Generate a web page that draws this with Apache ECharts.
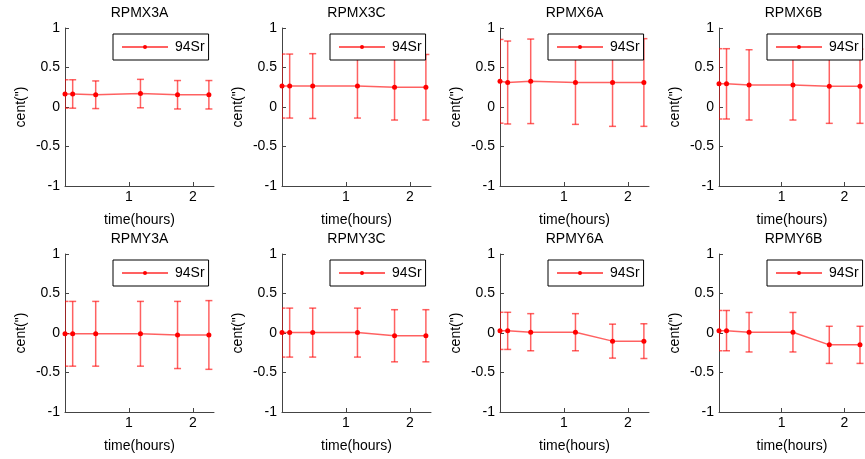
<!DOCTYPE html>
<html><head><meta charset="utf-8">
<script src="https://cdn.jsdelivr.net/npm/echarts@6/dist/echarts.min.js"></script>
<style>html,body{margin:0;padding:0;background:#fff}#c{width:865px;height:459px}</style>
</head><body><div id="c"></div>
<script>
const titles = ['RPMX3A','RPMX3C','RPMX6A','RPMX6B','RPMY3A','RPMY3C','RPMY6A','RPMY6B'];
const times = [0, 0.12, 0.48, 1.18, 1.76, 2.25];
const yRPMX3A = [0.165, 0.165, 0.155, 0.17, 0.155, 0.155];
const eRPMX3A = [0.18, 0.18, 0.175, 0.18, 0.18, 0.18];
const yRPMX3C = [0.265, 0.265, 0.265, 0.265, 0.25, 0.25];
const eRPMX3C = [0.405, 0.405, 0.41, 0.405, 0.415, 0.415];
const yRPMX6A = [0.325, 0.31, 0.325, 0.31, 0.31, 0.31];
const eRPMX6A = [0.53, 0.525, 0.535, 0.53, 0.555, 0.555];
const yRPMX6B = [0.293, 0.293, 0.28, 0.28, 0.263, 0.263];
const eRPMX6B = [0.445, 0.445, 0.445, 0.445, 0.47, 0.47];
const yRPMY3A = [-0.01, -0.01, -0.01, -0.01, -0.025, -0.025];
const eRPMY3A = [0.41, 0.41, 0.41, 0.41, 0.425, 0.435];
const yRPMY3C = [0.005, 0.005, 0.005, 0.005, -0.035, -0.035];
const eRPMY3C = [0.31, 0.31, 0.31, 0.31, 0.33, 0.33];
const yRPMY6A = [0.027, 0.027, 0.01, 0.01, -0.103, -0.103];
const eRPMY6A = [0.235, 0.235, 0.235, 0.235, 0.215, 0.22];
const yRPMY6B = [0.03, 0.03, 0.01, 0.01, -0.15, -0.15];
const eRPMY6B = [0.255, 0.255, 0.25, 0.25, 0.235, 0.235];
const yTicks = [-1, -0.5, 0, 0.5, 1];
const xTicks = [1, 2];
const seriesName = '94Sr';

const ys = [yRPMX3A,yRPMX3C,yRPMX6A,yRPMX6B,yRPMY3A,yRPMY3C,yRPMY6A,yRPMY6B];
const es = [eRPMX3A,eRPMX3C,eRPMX6A,eRPMX6B,eRPMY3A,eRPMY3C,eRPMY6A,eRPMY6B];

const colLeft = [65, 282, 500, 719];
const rowTop = [28, 254];
const W = 149, H = 158;
const FONT = 'Liberation Sans, Arial, sans-serif';
const LINEC = 'rgba(255,0,0,0.62)';
const AXC = '#444';

const grid = [], xAxis = [], yAxis = [], series = [], title = [], legend = [];
for (let i = 0; i < 8; i++) {
  const c = i % 4, r = Math.floor(i / 4);
  const L = colLeft[c], T = rowTop[r];
  grid.push({left: L, top: T, width: W, height: H});
  title.push({text: titles[i], left: L + W / 2, top: T - 22, textAlign: 'center', padding: 0,
    textStyle: {fontFamily: FONT, fontSize: 14, fontWeight: 'normal', color: '#000'}});
  xAxis.push({gridIndex: i, type: 'value', min: 0, max: 2.33, interval: 1,
    name: 'time(hours)', nameLocation: 'middle', nameGap: 27,
    nameTextStyle: {fontFamily: FONT, fontSize: 14, color: '#000'},
    axisLine: {show: true, onZero: false, lineStyle: {color: AXC, width: 1}},
    axisTick: {show: true, inside: true, length: 4, customValues: xTicks, lineStyle: {color: AXC}},
    axisLabel: {customValues: xTicks, fontFamily: FONT, fontSize: 14, color: '#000', margin: 4},
    splitLine: {show: false}});
  yAxis.push({gridIndex: i, type: 'value', min: -1, max: 1, interval: 0.5,
    name: 'cent(")', nameLocation: 'middle', nameGap: 37, nameRotate: 90,
    nameTextStyle: {fontFamily: FONT, fontSize: 14, color: '#000'},
    axisLine: {show: true, lineStyle: {color: AXC, width: 1}},
    axisTick: {show: true, inside: true, length: 4, customValues: yTicks, lineStyle: {color: AXC}},
    axisLabel: {customValues: yTicks, fontFamily: FONT, fontSize: 14, color: '#000', margin: 5},
    splitLine: {show: false}});
  const pts = times.map((t, k) => [t, ys[i][k]]);
  const errs = times.map((t, k) => [t, ys[i][k] - es[i][k], ys[i][k] + es[i][k]]);
  series.push({
    type: 'custom', name: 'err' + i, xAxisIndex: i, yAxisIndex: i, data: errs, z: 2,
    clip: true, silent: true,
    renderItem: function (params, api) {
      const lo = api.coord([api.value(0), api.value(1)]);
      const hi = api.coord([api.value(0), api.value(2)]);
      const hw = 3.5;
      const st = {stroke: LINEC, lineWidth: 1.5, fill: null};
      return {type: 'group', children: [
        {type: 'line', shape: {x1: lo[0], y1: lo[1], x2: hi[0], y2: hi[1]}, style: st},
        {type: 'line', shape: {x1: lo[0] - hw, y1: lo[1], x2: lo[0] + hw, y2: lo[1]}, style: st},
        {type: 'line', shape: {x1: hi[0] - hw, y1: hi[1], x2: hi[0] + hw, y2: hi[1]}, style: st}
      ]};
    }
  });
  series.push({type: 'line', name: seriesName, xAxisIndex: i, yAxisIndex: i, data: pts, z: 3,
    symbol: 'circle', symbolSize: 5, showSymbol: true, animation: false,
    lineStyle: {color: LINEC, width: 1.5}, itemStyle: {color: '#ff0000'}});
  legend.push({data: [seriesName], left: L + 48, top: T + 6, width: 95, height: 27,
    orient: 'horizontal', itemWidth: 46, itemHeight: 5, itemGap: 0,
    padding: [6, 4, 6, 8], borderColor: '#000', borderWidth: 1, backgroundColor: '#fff',
    borderRadius: 0, selectedMode: false, z: 10,
    textStyle: {fontFamily: FONT, fontSize: 14, color: '#000', padding: [0, 0, 0, 2]}});
}

const chart = echarts.init(document.getElementById('c'), null, {renderer: 'canvas'});
chart.setOption({animation: false, backgroundColor: '#fff', title, grid, xAxis, yAxis, series, legend});
</script></body></html>
